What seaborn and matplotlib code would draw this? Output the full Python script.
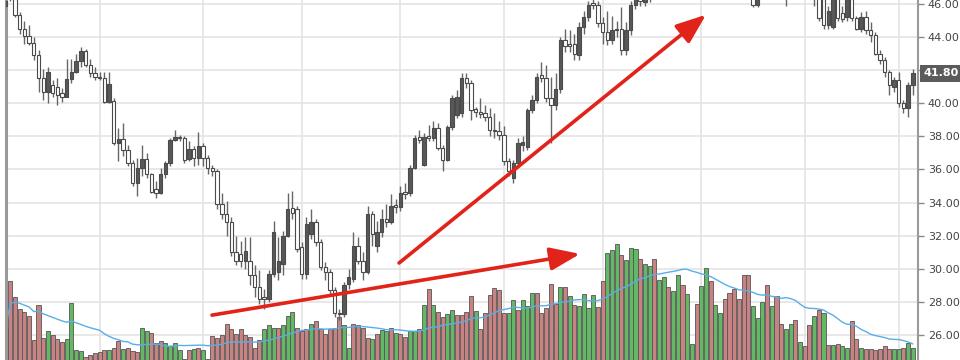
import numpy as np
import pandas as pd
import matplotlib
matplotlib.use("Agg")
import matplotlib.pyplot as plt
import matplotlib.transforms as mtransforms
import seaborn as sns

# daily candles (index 0 = first visible bar)
opens = [45.9, 46.9, 46.3, 45.35, 44.5, 44.05, 43.65, 42.9, 41.5, 40.7,
         41.1, 41.0, 40.6, 40.4, 41.45, 41.9, 42.55, 43.15, 42.3, 41.8,
         41.6, 41.55, 40.1, 40.15, 37.6, 37.85, 37.15, 36.4, 35.2, 36.1,
         36.65, 35.7, 34.8, 34.55, 35.7, 36.4, 37.8, 37.95, 37.9, 36.65,
         37.25, 36.7, 37.4, 36.7, 36.1, 35.9, 33.9, 33.3, 32.8, 31.0,
         30.9, 30.5, 30.5, 29.6, 28.9, 28.3, 28.2, 29.7, 29.8, 30.3,
         32.0, 33.65, 33.6, 31.3, 29.7, 32.1, 32.8, 31.6, 30.1, 29.8,
         28.7, 27.35, 27.25, 29.1, 29.4, 31.4, 30.5, 29.8, 33.3, 31.4,
         32.2, 33.0, 32.85, 33.85, 33.75, 34.65, 34.55, 36.1, 37.95, 36.3,
         38.05, 37.9, 38.5, 37.3, 36.6, 38.55, 39.3, 39.4, 41.55, 41.2,
         39.65, 39.5, 39.4, 39.2, 38.4, 38.3, 38.1, 36.5, 35.5, 36.4,
         37.45, 37.35, 39.6, 40.2, 41.7, 41.5, 40.3, 39.9, 40.85, 43.85,
         43.6, 43.6, 42.9, 44.6, 45.2, 46.05, 45.95, 44.85, 44.3, 43.8,
         44.5, 44.5, 43.2, 44.4, 45.95, 46.5, 46.1, 46.4, 46.9, 47.4,
         47.2, 47.8, 48.2, 47.9, 48.3, 48.7, 48.4, 47.9, 48.0, 48.5,
         48.9, 48.6, 48.1, 47.6, 47.2, 47.5, 47.3, 46.9, 47.1, 47.0,
         45.95, 46.8, 47.3, 47.6, 47.4, 47.0, 47.2, 46.7, 47.1, 47.5,
         47.2, 46.9, 47.0, 46.8, 46.3, 44.7, 44.6, 46.4, 45.45, 45.2,
         46.3, 45.15, 44.5, 45.2, 44.4, 44.1, 43.0, 42.6, 41.9, 41.0,
         41.4, 40.0, 39.7, 41.1]

highs = [46.5, 47.1, 46.6, 45.5, 45.0, 44.7, 44.0, 43.2, 42.1, 42.2,
         41.4, 41.5, 40.9, 42.7, 42.7, 43.0, 43.4, 43.3, 42.7, 42.2,
         41.9, 41.9, 41.9, 40.3, 38.5, 38.8, 37.5, 36.6, 36.7, 37.5,
         37.0, 35.8, 35.3, 36.1, 36.5, 37.9, 38.4, 38.1, 38.0, 37.7,
         37.4, 38.25, 37.6, 36.9, 36.3, 36.0, 34.6, 34.1, 33.1, 32.0,
         31.7, 31.9, 31.9, 30.2, 29.9, 28.8, 29.9, 32.9, 31.9, 32.3,
         34.6, 34.7, 33.8, 31.6, 33.1, 33.6, 33.0, 31.8, 30.4, 30.0,
         28.9, 27.6, 29.2, 30.0, 32.2, 31.9, 31.0, 33.8, 33.5, 32.9,
         33.6, 33.9, 34.5, 34.2, 35.0, 35.2, 36.3, 38.1, 38.4, 38.2,
         38.7, 38.9, 38.8, 37.5, 38.7, 40.5, 40.8, 41.8, 41.8, 41.4,
         39.8, 40.3, 39.9, 39.7, 39.4, 38.9, 38.6, 36.7, 36.6, 37.9,
         38.0, 39.7, 40.5, 41.8, 42.5, 42.3, 41.6, 41.8, 44.0, 44.5,
         44.4, 44.2, 44.9, 45.6, 46.2, 46.3, 46.2, 45.2, 45.6, 45.3,
         45.0, 45.8, 44.9, 46.2, 46.6, 46.8, 46.9, 47.2, 47.6, 47.9,
         48.0, 48.4, 48.6, 48.5, 49.0, 49.2, 48.8, 48.3, 48.7, 49.1,
         49.3, 48.9, 48.4, 47.9, 47.8, 48.0, 47.7, 47.4, 47.5, 47.3,
         47.1, 47.6, 47.9, 48.1, 47.8, 47.5, 47.6, 47.4, 47.7, 47.9,
         47.6, 47.3, 47.3, 47.0, 46.5, 45.9, 46.7, 46.7, 45.9, 46.6,
         46.6, 45.3, 45.5, 45.6, 44.9, 44.3, 43.2, 42.8, 42.0, 41.6,
         41.9, 40.2, 41.3, 42.1]

lows = [45.8, 46.2, 45.2, 44.2, 43.6, 43.5, 42.6, 40.7, 40.2, 40.0,
        40.4, 39.9, 40.1, 40.35, 41.2, 41.8, 42.2, 42.2, 41.6, 41.4,
        41.4, 40.0, 40.0, 37.5, 36.5, 36.8, 36.2, 35.0, 34.4, 35.6,
        35.5, 34.6, 34.3, 34.5, 35.5, 36.2, 37.7, 37.7, 36.4, 36.5,
        36.2, 36.3, 36.2, 35.7, 35.6, 33.6, 33.0, 32.0, 30.8, 30.2,
        30.1, 30.0, 29.0, 28.3, 27.9, 27.6, 28.0, 29.5, 29.3, 29.6,
        31.9, 33.0, 31.0, 29.4, 29.4, 31.8, 31.4, 29.9, 29.3, 28.4,
        27.1, 26.9, 27.1, 28.8, 29.2, 30.3, 29.3, 29.7, 31.4, 31.0,
        31.9, 32.5, 32.7, 33.4, 33.5, 34.2, 34.4, 36.0, 37.6, 36.2,
        37.7, 37.7, 37.2, 35.9, 36.5, 38.4, 39.1, 39.2, 40.9, 39.0,
        39.2, 39.1, 38.9, 38.0, 37.9, 37.8, 36.3, 35.6, 35.2, 36.2,
        37.1, 37.2, 39.4, 40.0, 41.3, 40.1, 37.6, 39.6, 40.6, 43.1,
        43.1, 42.6, 42.6, 44.2, 45.0, 45.7, 44.6, 43.6, 43.5, 43.6,
        44.0, 42.9, 42.9, 44.1, 45.7, 45.9, 45.9, 46.1, 46.6, 47.0,
        46.9, 47.5, 47.6, 47.4, 48.0, 48.1, 47.6, 47.3, 47.6, 48.2,
        48.3, 47.8, 47.4, 46.9, 46.8, 47.0, 46.7, 46.5, 46.6, 45.8,
        45.8, 46.6, 47.0, 47.2, 46.9, 46.6, 45.9, 46.5, 46.8, 46.9,
        46.6, 46.3, 45.9, 45.0, 44.5, 44.5, 44.5, 45.0, 44.9, 45.0,
        45.0, 44.4, 44.3, 44.2, 43.7, 42.9, 42.4, 41.6, 40.5, 40.7,
        39.8, 39.4, 39.15, 40.5]

closes = [46.2, 46.35, 45.35, 44.5, 44.05, 43.65, 42.9, 41.5, 40.7, 41.9,
          40.6, 40.5, 40.4, 41.45, 41.9, 42.55, 43.15, 42.3, 41.8, 41.6,
          41.5, 40.1, 41.15, 37.6, 37.85, 37.15, 36.4, 35.2, 36.1, 36.65,
          35.7, 34.65, 34.55, 35.7, 36.4, 37.8, 37.95, 37.88, 36.6, 37.25,
          36.7, 37.4, 36.7, 36.1, 35.9, 33.9, 33.3, 32.8, 31.0, 30.5,
          30.5, 31.1, 29.6, 28.9, 28.2, 28.2, 29.7, 32.2, 30.5, 32.0,
          33.6, 33.4, 31.2, 29.7, 32.7, 32.8, 31.6, 30.1, 29.8, 28.7,
          27.3, 27.25, 29.0, 29.5, 31.4, 30.5, 29.8, 33.3, 32.1, 32.2,
          33.0, 32.8, 33.8, 33.75, 34.6, 34.5, 36.1, 37.9, 37.8, 37.95,
          37.9, 38.5, 37.3, 36.6, 38.55, 40.3, 40.4, 41.5, 41.2, 39.6,
          39.5, 39.35, 39.2, 38.4, 38.3, 38.1, 36.5, 35.9, 36.4, 37.6,
          37.65, 39.6, 40.2, 41.6, 41.55, 40.3, 39.9, 40.85, 43.85, 43.45,
          43.45, 43.0, 44.6, 45.2, 45.95, 45.95, 44.85, 44.3, 43.8, 44.4,
          44.4, 43.2, 44.4, 45.95, 46.35, 46.2, 46.6, 46.9, 47.4, 47.2,
          47.8, 48.2, 47.9, 48.3, 48.7, 48.4, 47.9, 48.0, 48.5, 48.9,
          48.6, 48.1, 47.6, 47.2, 47.5, 47.3, 46.9, 47.1, 47.0, 45.95,
          46.8, 47.3, 47.6, 47.4, 47.0, 47.2, 46.7, 47.1, 47.5, 47.2,
          46.9, 46.8, 46.6, 45.15, 44.7, 45.6, 46.4, 45.15, 45.1, 46.3,
          45.15, 44.5, 45.2, 44.4, 44.1, 43.0, 42.6, 41.9, 41.1, 41.4,
          40.0, 39.7, 41.1, 41.8]

# volume in millions, with the colour of each bar (g = up, r = down)
volume = [9.2, 22, 17.5, 14.2, 13.3, 12.2, 5.6, 15.3, 6.1, 8.0,
          6.9, 5.8, 5.0, 5.8, 15.8, 2.8, 2.5, 0.8, 1.4, 2.0,
          2.2, 2.8, 2.8, 3.3, 5.2, 3.1, 3.4, 2.5, 2.2, 8.8,
          8.0, 7.6, 4.6, 5.2, 4.6, 3.9, 4.6, 2.8, 0.4, 2.8,
          3.1, 3.4, 2.8, 0.4, 6.7, 6.1, 6.9, 10.0, 8.6, 7.2,
          8.6, 6.9, 6.4, 3.3, 5.6, 8.6, 9.7, 8.9, 8.9, 9.7,
          12.2, 13.3, 8.9, 8.0, 8.5, 10.0, 10.8, 8.5, 7.3, 8.6,
          8.9, 11.9, 9.7, 3.3, 9.9, 9.6, 8.9, 6.1, 5.9, 7.3,
          8.3, 8.0, 8.9, 7.6, 7.1, 6.4, 8.0, 8.0, 8.6, 15.3,
          19.7, 15.3, 13.3, 11.9, 12.8, 13.9, 12.4, 12.4, 13.3, 17.8,
          13.6, 8.6, 13, 18, 20, 19.4, 13, 13, 16.7, 14,
          16.8, 15, 18.6, 18.6, 13, 14.4, 21, 15.6, 20.2, 20.2,
          17.8, 15.2, 15, 18.2, 14.4, 18, 14.6, 21.9, 29.7, 30.5,
          32.2, 29.1, 27.8, 31.1, 30.8, 28, 26.7, 26.1, 28.1, 22.2,
          23.1, 20.2, 19.2, 23.6, 20.8, 18.2, 4.4, 15.6, 20.5, 25.6,
          21.9, 15.4, 13, 16.9, 18.6, 19.8, 16.9, 23.6, 23.6, 15,
          11.7, 16.1, 20.8, 15.1, 17.9, 10, 8.6, 9.9, 11.1, 5,
          3.9, 9.6, 12.2, 13.9, 13, 4.1, 4.1, 4.4, 3.9, 3.4,
          10.8, 5.8, 3.3, 3.1, 3.1, 2.8, 3.1, 3.9, 3.1, 3.1,
          3.1, 3.4, 4.6, 3.4]
vol_side = list(
    "grrrr" "rrrrg" "rrrgg" "ggrrr" "rrgrr" "grrrg" "grrrg" "gggrr" "grggr" "rrrrr"
    "rrrrr" "gggrg" "ggrrr" "grrrr" "rrggr" "rrrgr" "ggrgr" "rggrg" "rgrrg" "grrrr"
    "g"
    "rrrrr" "rggrg" "ggrrr" "rrgrg" "rgggg" "rrggg" "rgggr" "ggrgg" "rggrg" "grggr"
    "g"
    "grrrr" "rrggg" "rgrrg" "grgrr" "grgrg" "rggrr" "grrrr" "rrggr" "gg")

month_starts = [20, 42, 63, 84, 106, 127, 148, 170, 190]
price_ticks = [26, 28, 30, 32, 34, 36, 38, 40, 42, 44, 46]
last_price = 41.80
# trend arrows: (candle index, price) start -> end
arrow_1 = [(43.9, 27.2), (122.2, 30.9)]
arrow_2 = [(83.7, 30.35), (149.0, 45.35)]

lengths = {n: len(v) for n, v in [("opens", opens), ("highs", highs), ("lows", lows),
                                  ("closes", closes), ("volume", volume), ("side", vol_side)]}
assert len(set(lengths.values())) == 1, lengths

sns.set_style("white")
plt.rcParams["font.family"] = ["DejaVu Sans"]

df = pd.DataFrame({"open": opens, "high": highs, "low": lows, "close": closes,
                   "volume": volume, "side": vol_side})
df["idx"] = np.arange(len(df))
df["vol_ma"] = df["volume"].rolling(20, min_periods=1).mean()

grid_c = "#e4e4e4"
fig = plt.figure(figsize=(9.6, 3.6), dpi=100)
axv = fig.add_axes([6 / 960, 0, 912 / 960, 1])
axp = axv.twinx()

# grid lives on the volume axes so the bars cover it
for m in month_starts:
    axv.axvline(m, color=grid_c, lw=1.2, zorder=0)
trans = mtransforms.blended_transform_factory(axv.transAxes, axp.transData)
for p in price_ticks:
    axv.plot([0, 1], [p, p], transform=trans, color=grid_c, lw=1.2, zorder=0)

sns.barplot(data=df, x="idx", y="volume", hue="side",
            palette={"g": "#63b863", "r": "#c88282"}, native_scale=True,
            width=0.86, edgecolor="#555555", linewidth=0.6, saturation=1,
            errorbar=None, legend=False, ax=axv, zorder=1)
sns.lineplot(data=df, x="idx", y="vol_ma", color="#5aaee6", lw=1.0,
             ax=axv, zorder=2)
axv.set_ylim(0, 100)
axv.set_yticks([])
axv.set_xlabel("")
axv.set_ylabel("")

# candles
up = df["close"] >= df["open"]
axp.vlines(df["idx"], df["low"], df["high"], color="#666666", lw=1, zorder=2)
body_lo = np.minimum(df["open"], df["close"])
body_h = np.maximum((df["close"] - df["open"]).abs(), 0.08)
axp.bar(df["idx"], body_h, bottom=body_lo, width=0.72,
        color=np.where(up, "#585858", "white"), edgecolor="#4a4a4a",
        linewidth=0.8, zorder=3)

for (x0, y0), (x1, y1) in [arrow_1, arrow_2]:
    axp.annotate("", xy=(x1, y1), xytext=(x0, y0), zorder=6,
                 arrowprops=dict(arrowstyle="-|>,head_length=1.3,head_width=0.5",
                                 color="#e2231a", lw=2.6, shrinkA=0, shrinkB=0,
                                 mutation_scale=14))

axp.set_ylim(24.49, 46.24)
axp.set_xlim(0.085, 194.1)
axp.set_xticks([])
axp.set_yticks(price_ticks)
# the 42.00 label sits under the last-price tag, so it is left blank
axp.set_yticklabels(["" if abs(p - last_price) < 1 else f"{p:.2f}" for p in price_ticks])
axp.tick_params(axis="y", right=True, labelright=True, left=False, labelleft=False,
                length=4, width=1, color="#888888", labelsize=8,
                labelcolor="#444444", pad=3)

for ax in (axv, axp):
    for s in ax.spines.values():
        s.set_visible(False)
axp.spines["left"].set_visible(True)
axp.spines["left"].set_color("#9a9a9a")
axp.spines["left"].set_linewidth(2.2)
axp.spines["right"].set_visible(True)
axp.spines["right"].set_color("#9a9a9a")
axp.spines["right"].set_linewidth(1.5)
axp.spines["bottom"].set_visible(True)
axp.spines["bottom"].set_color("#888888")

lbl_trans = mtransforms.blended_transform_factory(axp.transAxes, axp.transData)
axp.text(1.006, last_price, f"{last_price:.2f}", transform=lbl_trans,
         ha="left", va="center", color="white", fontsize=8, fontweight="bold",
         bbox=dict(boxstyle="square,pad=0.3", fc="#5b5b5b", ec="none"),
         clip_on=False, zorder=10)

fig.savefig("out.png", dpi=100)
